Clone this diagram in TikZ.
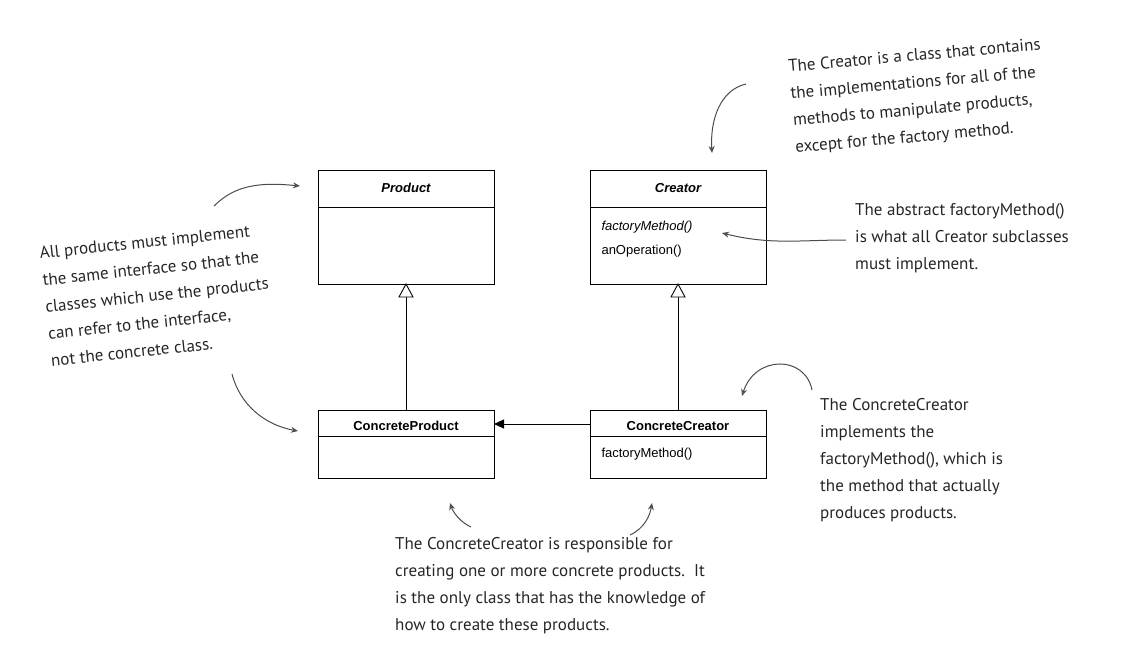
\documentclass[tikz,border=0pt]{standalone}
\usepackage{fontspec}
\setmainfont{Liberation Sans}
\newfontfamily\hand{PT Sans}
\usetikzlibrary{arrows.meta}
\begin{document}
\begin{tikzpicture}[x=1pt,y=-1pt,
  box/.style={draw,line width=0.8pt},
  note/.style={font=\hand\fontsize{17}{27}\selectfont,text=black!85,align=left,inner sep=0},
  pt/.style={draw=black!70,line width=1pt,-{Stealth[length=7pt,width=6pt,open]}},
  inh/.style={draw,line width=0.9pt},
  tri/.style={draw,fill=white,line width=0.9pt},
  asc/.style={draw,line width=0.9pt,-{Triangle[length=10pt,width=9pt]}},
  uml/.style={font=\fontsize{13}{15}\selectfont}]
\useasboundingbox (0,0) rectangle (1145,670);
% classes
\draw[box] (318,170) rectangle (494,284); \draw[box] (318,207)--(494,207);
\node[uml,font=\bfseries\itshape\fontsize{13}{15}\selectfont] (product) at (406,188) {Product};
\coordinate (pb) at (406,284);
\draw[box] (590,170) rectangle (766,284); \draw[box] (590,207)--(766,207);
\node[uml,font=\bfseries\itshape\fontsize{13}{15}\selectfont] (creator) at (678,188) {Creator};
\node[uml,anchor=west,font=\itshape\fontsize{13}{15}\selectfont] (fm) at (598,227) {factoryMethod()};
\node[uml,anchor=west] (op) at (598,251) {anOperation()};
\coordinate (cb) at (678,284);
\draw[box] (318,410) rectangle (494,478); \draw[box] (318,436)--(494,436);
\node[uml,font=\bfseries\fontsize{13}{15}\selectfont] (cp) at (406,426) {ConcreteProduct};
\draw[box] (590,410) rectangle (766,478); \draw[box] (590,436)--(766,436);
\node[uml,font=\bfseries\fontsize{13}{15}\selectfont] (cc) at (678,426) {ConcreteCreator};
\node[uml,anchor=west] (fm2) at (598,454) {factoryMethod()};
\coordinate (cpt) at (406,410); \coordinate (cct) at (678,410);
\coordinate (ccl) at (590,424); \coordinate (cpr) at (494,424);
\draw[inh] (cpt)--(pb);
\draw[inh] (cct)--(cb);
\draw[tri] (pb) -- ++(-7,13) -- ++(14,0) -- cycle;
\draw[tri] (cb) -- ++(-7,13) -- ++(14,0) -- cycle;
\draw[asc] (ccl)--(cpr);
% notes
\node[note,rotate=5] (n1) at (918,97) {The Creator is a class that contains\\the implementations for all of the\\methods to manipulate products,\\except for the factory method.};
\node[note,anchor=north west] (n2) at (855,203) {The abstract factoryMethod()\\is what all Creator subclasses\\must implement.};
\node[note,rotate=6] (n3) at (157,295) {All products must implement\\the same interface so that the\\classes which use the products\\can refer to the interface,\\not the concrete class.};
\node[note,anchor=north west] (n4) at (820,398) {The ConcreteCreator\\implements the\\factoryMethod(), which is\\the method that actually\\produces products.};
\node[note,anchor=north west] (n5) at (395,537) {The ConcreteCreator is responsible for\\creating one or more concrete products.\ \ It\\is the only class that has the knowledge of\\how to create these products.};
% pointers
\coordinate (a1s) at (746,84); \coordinate (a1e) at (712,153);
\draw[pt] (a1s) .. controls (720,90) and (710,120) .. (a1e);
\coordinate (a2s) at (846,240); \coordinate (a2e) at (722,233);
\draw[pt] (a2s) .. controls (800,240) and (770,245) .. (a2e);
\coordinate (a3s) at (214,206); \coordinate (a3e) at (300,186);
\draw[pt] (a3s) .. controls (235,185) and (260,182) .. (a3e);
\coordinate (a4s) at (232,374); \coordinate (a4e) at (298,431);
\draw[pt] (a4s) .. controls (240,405) and (265,425) .. (a4e);
\coordinate (a5s) at (812,390); \coordinate (a5e) at (742,396);
\draw[pt] (a5s) .. controls (805,355) and (755,355) .. (a5e);
\coordinate (a6s) at (471,527); \coordinate (a6e) at (450,503);
\draw[pt] (a6s) .. controls (460,522) and (453,512) .. (a6e);
\coordinate (a7s) at (630,535); \coordinate (a7e) at (652,503);
\draw[pt] (a7s) .. controls (645,528) and (650,515) .. (a7e);
\end{tikzpicture}
\end{document}
